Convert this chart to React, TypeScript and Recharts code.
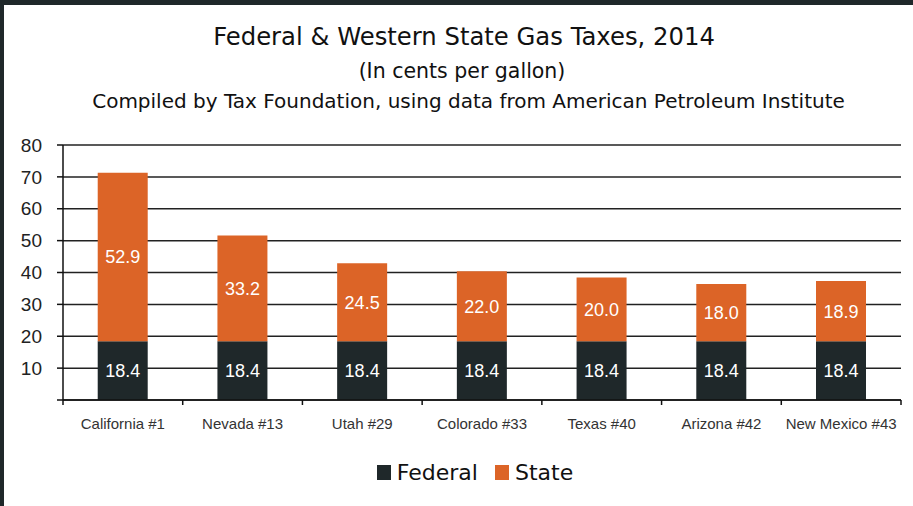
import React from 'react';
import { BarChart, Bar, XAxis, YAxis, CartesianGrid, LabelList } from 'recharts';

const states = ['California #1', 'Nevada #13', 'Utah #29', 'Colorado #33', 'Texas #40', 'Arizona #42', 'New Mexico #43'];
const federalTax = [18.4, 18.4, 18.4, 18.4, 18.4, 18.4, 18.4];
const stateTax = [52.9, 33.2, 24.5, 22.0, 20.0, 18.0, 18.9];
const yTicks = [0, 10, 20, 30, 40, 50, 60, 70, 80];

const data = states.map((name, i) => ({ name, federal: federalTax[i], state: stateTax[i] }));

const FONT = '"Liberation Sans", Arial, Helvetica, sans-serif';
const WIDE = '"DejaVu Sans", "Liberation Sans", sans-serif';
const DARK = '#1f282a';
const ORANGE = '#dc6427';

function StateTick(props: any) {
  const { x, y, payload, index, visibleTicksCount } = props;
  const half = payload && payload.offset ? payload.offset : 59.86;
  return (
    <g>
      <line x1={x - half} x2={x - half} y1={y} y2={y + 5} stroke="#111" strokeWidth={1.5} />
      {index === visibleTicksCount - 1 && (
        <line x1={x + half} x2={x + half} y1={y} y2={y + 5} stroke="#111" strokeWidth={1.5} />
      )}
      <text x={x} y={y + 29} textAnchor="middle" fontSize={15} fill="#333" fontFamily={FONT}>
        {payload.value}
      </text>
    </g>
  );
}

const fmt = (v: any) => Number(v).toFixed(1);

export default function App() {
  return (
    <div style={{ position: 'absolute', left: 0, top: 0, width: 913, height: 506, background: '#fff', fontFamily: FONT }}>
      <div style={{ position: 'absolute', left: 0, top: 0, width: 913, height: 5, background: DARK }} />
      <div style={{ position: 'absolute', left: 0, top: 0, width: 4, height: 506, background: DARK }} />
      <div style={{ position: 'absolute', left: 0, top: 22, width: 928, textAlign: 'center', fontSize: 24.3, color: '#111', fontFamily: WIDE }}>
        Federal &amp; Western State Gas Taxes, 2014
      </div>
      <div style={{ position: 'absolute', left: 0, top: 59, width: 924, textAlign: 'center', fontSize: 20.5, color: '#111', fontFamily: WIDE }}>
        (In cents per gallon)
      </div>
      <div style={{ position: 'absolute', left: 0, top: 89, width: 937, textAlign: 'center', fontSize: 20, color: '#111', fontFamily: WIDE }}>
        Compiled by Tax Foundation, using data from American Petroleum Institute
      </div>
      <div style={{ position: 'absolute', left: 0, top: 0 }}>
        <BarChart width={913} height={506} data={data} margin={{ top: 145, right: 12, bottom: 76, left: 0 }} barCategoryGap="29%">
          <CartesianGrid vertical={false} stroke="#222" strokeWidth={1.5} />
          <XAxis
            dataKey="name"
            height={30}
            tickSize={0}
            tickMargin={0}
            tickLine={false}
            axisLine={{ stroke: '#111', strokeWidth: 1.5 }}
            tick={<StateTick />}
            interval={0}
          />
          <YAxis
            width={63}
            domain={[0, 80]}
            ticks={yTicks}
            tickSize={6}
            tickMargin={15}
            tickLine={{ stroke: '#111', strokeWidth: 1.5 }}
            axisLine={{ stroke: '#111', strokeWidth: 1.5 }}
            tick={{ fontSize: 19, fill: '#222', fontFamily: FONT }}
            tickFormatter={(v: number) => (v === 0 ? '' : String(v))}
            interval={0}
          />
          <Bar dataKey="federal" stackId="tax" fill={DARK} isAnimationActive={false}>
            <LabelList dataKey="federal" position="center" fill="#fff" fontSize={18} fontFamily={FONT} formatter={fmt} />
          </Bar>
          <Bar dataKey="state" stackId="tax" fill={ORANGE} isAnimationActive={false}>
            <LabelList dataKey="state" position="center" fill="#fff" fontSize={18} fontFamily={FONT} formatter={fmt} />
          </Bar>
        </BarChart>
      </div>
      <div style={{ position: 'absolute', left: 0, top: 460, width: 950, display: 'flex', justifyContent: 'center', alignItems: 'center', fontSize: 22, color: '#111', fontFamily: WIDE }}>
        <span style={{ display: 'inline-block', width: 14, height: 15, background: DARK, marginRight: 6 }} />
        <span style={{ marginRight: 17 }}>Federal</span>
        <span style={{ display: 'inline-block', width: 14, height: 15, background: ORANGE, marginRight: 6 }} />
        <span>State</span>
      </div>
    </div>
  );
}
